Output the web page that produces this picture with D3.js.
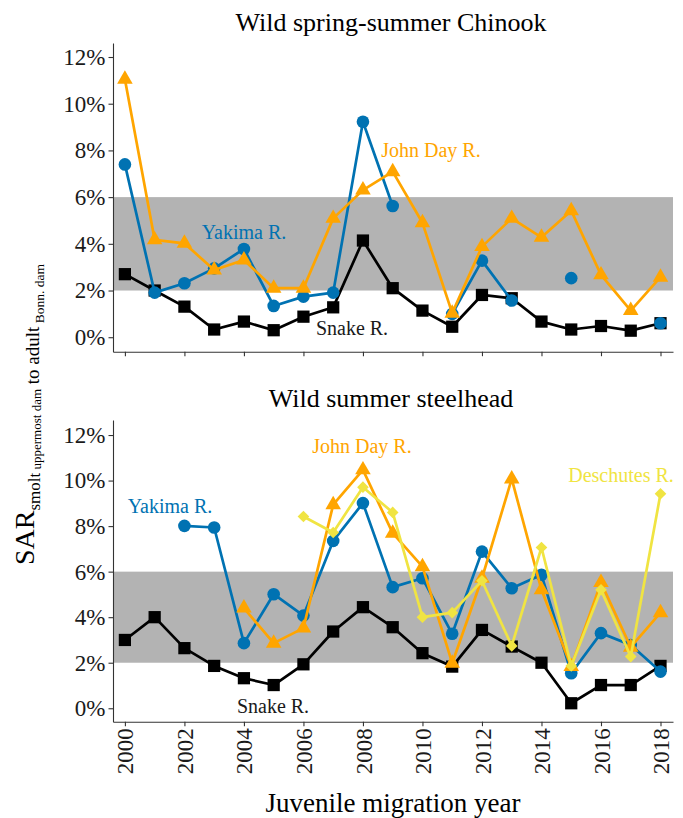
<!DOCTYPE html>
<html>
<head>
<meta charset="utf-8">
<script src="https://cdn.jsdelivr.net/npm/d3@7"></script>
<style>
  html, body { margin: 0; padding: 0; background: #fff; }
  svg { display: block; }
  svg text { font-family: "Liberation Serif", "Times New Roman", serif !important; }
</style>
</head>
<body>
<svg id="chart" width="683" height="818" font-family="Liberation Serif, Times New Roman, serif"></svg>
<script>
// ---------------- DATA ----------------
const years = [2000,2001,2002,2003,2004,2005,2006,2007,2008,2009,2010,2011,2012,2013,2014,2015,2016,2017,2018];
const yTicks = [0,2,4,6,8,10,12];
const xTicks = [2000,2002,2004,2006,2008,2010,2012,2014,2016,2018];
const bandRange = [2,6];

const chinookSnake   = [2.70,2.00,1.31,0.33,0.67,0.30,0.88,1.28,4.14,2.10,1.14,0.45,1.81,1.67,0.67,0.33,0.48,0.28,0.60];
const chinookYakima  = [7.40,1.91,2.31,2.95,3.78,1.34,1.74,1.91,9.23,5.62,null,1.00,3.28,1.57,null,2.53,null,null,0.60];
const chinookJohnDay = [11.05,4.17,4.02,2.88,3.31,2.10,2.10,5.09,6.30,7.09,4.90,1.03,3.88,5.09,4.28,5.42,2.67,1.14,2.57];

const steelSnake     = [3.00,4.00,2.64,1.86,1.32,1.02,1.93,3.37,4.44,3.56,2.42,1.83,3.44,2.71,2.00,0.22,1.02,1.02,1.86];
const steelYakima    = [null,null,8.01,7.94,2.86,5.01,4.07,7.35,9.01,5.32,5.71,3.27,6.88,5.27,5.86,1.54,3.30,2.78,1.61];
const steelJohnDay   = [null,null,null,null,4.40,2.86,3.52,8.94,10.47,7.69,6.22,1.98,5.71,10.07,5.20,1.83,5.52,2.68,4.20];
const steelDeschutes = [null,null,null,null,null,null,8.42,7.72,9.71,8.60,4.00,4.20,5.60,2.74,7.06,1.86,5.20,2.27,9.42];

const titles = ["Wild spring-summer Chinook", "Wild summer steelhead"];
const xTitle = "Juvenile migration year";

// ---------------- STYLE ----------------
const FONT = "Liberation Serif, Times New Roman, serif";
const colors = { snake: "#000000", yakima: "#0072B2", johnday: "#FFA500", deschutes: "#F0E442" };
const svg = d3.select("#chart");

const x = d3.scaleLinear().domain([1999.6, 2018.42]).range([113, 673]);

const panels = [
  { title: titles[0], titleY: 31, yDomain: [-0.62, 12.6], yRange: [351.7, 43], showXLabels: false,
    series: [
      { key: "snake", values: chinookSnake, shape: "square" },
      { key: "yakima", values: chinookYakima, shape: "circle" },
      { key: "johnday", values: chinookJohnDay, shape: "triangle" }
    ],
    labels: [
      { text: "Yakima R.", key: "yakima", cx: 244, by: 239 },
      { text: "John Day R.", key: "johnday", cx: 431, by: 157 },
      { text: "Snake R.", key: "snake", cx: 352, by: 335 }
    ]
  },
  { title: titles[1], titleY: 407, yDomain: [-0.59, 12.66], yRange: [721.7, 420], showXLabels: true,
    series: [
      { key: "snake", values: steelSnake, shape: "square" },
      { key: "yakima", values: steelYakima, shape: "circle" },
      { key: "johnday", values: steelJohnDay, shape: "triangle" },
      { key: "deschutes", values: steelDeschutes, shape: "diamond" }
    ],
    labels: [
      { text: "Yakima R.", key: "yakima", cx: 170, by: 513 },
      { text: "John Day R.", key: "johnday", cx: 362, by: 453 },
      { text: "Deschutes R.", key: "deschutes", cx: 621, by: 482 },
      { text: "Snake R.", key: "snake", cx: 273, by: 713 }
    ]
  }
];

const symbols = {
  square: d3.symbol().type(d3.symbolSquare).size(150),
  circle: d3.symbol().type(d3.symbolCircle).size(125),
  triangle: d3.symbol().type(d3.symbolTriangle).size(105),
  diamond: d3.symbol().type(d3.symbolSquare).size(68)
};

panels.forEach(p => {
  const y = d3.scaleLinear().domain(p.yDomain).range(p.yRange);
  const g = svg.append("g");

  // band
  g.append("rect")
    .attr("x", x.range()[0]).attr("width", x.range()[1] - x.range()[0])
    .attr("y", y(bandRange[1])).attr("height", y(bandRange[0]) - y(bandRange[1]))
    .attr("fill", "#b3b3b3");

  // title
  svg.append("text").attr("x", 391).attr("y", p.titleY)
    .attr("text-anchor", "middle").attr("font-size", 26).attr("fill", "#000")
    .attr("font-family", FONT)
    .text(p.title);

  // axes
  const yAxis = d3.axisLeft(y).tickValues(yTicks).tickFormat(d => d + "%")
    .tickSize(4.5).tickSizeOuter(0).tickPadding(3);
  const ya = g.append("g").attr("transform", `translate(${x.range()[0]},0)`).call(yAxis)
    .attr("font-family", FONT).attr("font-size", 23);
  ya.selectAll("text").attr("font-size", 23).attr("fill", "#1a1a1a").attr("font-family", FONT);
  ya.selectAll("line, path").attr("stroke", "#333").attr("stroke-width", 1.1);

  const xAxis = d3.axisBottom(x).tickValues(xTicks).tickFormat(d3.format("d"))
    .tickSize(4.5).tickSizeOuter(0);
  const xa = g.append("g").attr("transform", `translate(0,${p.yRange[0]})`).call(xAxis)
    .attr("font-family", FONT).attr("font-size", 23);
  xa.selectAll("line, path").attr("stroke", "#333").attr("stroke-width", 1.1);
  if (p.showXLabels) {
    xa.selectAll("text")
      .attr("transform", "rotate(-90)")
      .attr("x", -6.5).attr("y", 0).attr("dy", "0.35em")
      .attr("text-anchor", "end")
      .attr("font-size", 23).attr("fill", "#1a1a1a").attr("font-family", FONT);
  } else {
    xa.selectAll("text").remove();
  }

  // lines
  const line = d3.line()
    .defined(d => d.v != null)
    .x(d => x(d.year)).y(d => y(d.v));

  p.series.forEach(s => {
    const data = years.map((yr, i) => ({ year: yr, v: s.values[i] }));
    const sg = g.append("g");
    sg.append("path").datum(data)
      .attr("d", line).attr("fill", "none")
      .attr("stroke", colors[s.key]).attr("stroke-width", 2.7)
      .attr("stroke-linejoin", "round");
    sg.selectAll("path.pt").data(data.filter(d => d.v != null)).join("path")
      .attr("class", "pt")
      .attr("d", symbols[s.shape])
      .attr("transform", d => `translate(${x(d.year)},${y(d.v)})` + (s.shape === "diamond" ? " rotate(45)" : ""))
      .attr("fill", colors[s.key]);
  });

  // labels
  p.labels.forEach(l => {
    g.append("text").attr("x", l.cx).attr("y", l.by)
      .attr("text-anchor", "middle").attr("font-size", 20).attr("font-family", FONT)
      .attr("fill", l.key === "snake" ? "#1a1a1a" : colors[l.key])
      .text(l.text);
  });
});

// x title
svg.append("text").attr("x", 393).attr("y", 812)
  .attr("text-anchor", "middle").attr("font-size", 27).attr("fill", "#000")
  .attr("font-family", FONT)
  .text(xTitle);

// y title with subscripts
const yt = svg.append("text")
  .attr("transform", "translate(34,565) rotate(-90)")
  .attr("text-anchor", "start").attr("fill", "#000").attr("font-family", FONT);
yt.append("tspan").attr("font-size", 28).text("SAR");
yt.append("tspan").attr("font-size", 17).attr("dy", 6).text("smolt");
yt.append("tspan").attr("font-size", 13).attr("dy", 1).text(" uppermost dam");
yt.append("tspan").attr("font-size", 19).attr("dy", -2).text(" to adult");
yt.append("tspan").attr("font-size", 13.5).attr("dy", 5).text(" Bonn. dam");
</script>
</body>
</html>
